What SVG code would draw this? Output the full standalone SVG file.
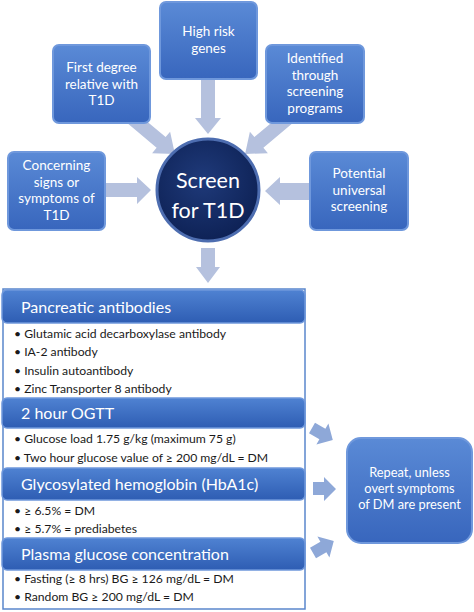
<svg xmlns="http://www.w3.org/2000/svg" width="474" height="612" viewBox="0 0 474 612">
<defs>
<linearGradient id="boxg" x1="0" y1="0" x2="0" y2="1">
<stop offset="0" stop-color="#5a8ad6"/>
<stop offset="1" stop-color="#3866bd"/>
</linearGradient>
<linearGradient id="hdrg" x1="0" y1="0" x2="0" y2="1">
<stop offset="0" stop-color="#4f82d2"/>
<stop offset="1" stop-color="#2e5db3"/>
</linearGradient>
<radialGradient id="circg" cx="0.45" cy="0.4" r="0.6">
<stop offset="0" stop-color="#1f3a7a"/>
<stop offset="1" stop-color="#0e2256"/>
</radialGradient>
<style>
.box{fill:url(#boxg);stroke:#6f98dc;stroke-width:2}
.hdr{fill:url(#hdrg);stroke:#6f98dc;stroke-width:1.5}
.bt{font-family:Lato,"Open Sans","Liberation Sans",sans-serif;font-size:13.5px;fill:#ffffff;text-anchor:middle}
.ht{font-family:Lato,"Open Sans","Liberation Sans",sans-serif;font-size:16px;fill:#ffffff}
.lt{font-family:Lato,"Open Sans","Liberation Sans",sans-serif;font-size:12.2px;fill:#1a1a1a}
.arr{fill:#b5c1de}
.arr2{fill:#8ea8d8}
</style>
</defs>
<rect width="474" height="612" fill="#ffffff"/>

<g id="connectors">
<polygon class="arr" points="201,79 215,79 215,118 221,118 208,134 195,118 201,118"/>
<polygon class="arr" points="105,183 137,183 137,177 151,190 137,204 137,197 105,197"/>
<polygon class="arr" points="310,183 280,183 280,177 265,191 280,205 280,200 310,200"/>
<g transform="translate(132,118) rotate(40)"><polygon class="arr" points="0,-7 38,-7 38,-14 56,0 38,14 38,7 0,7"/></g>
<g transform="translate(288,118) rotate(140)"><polygon class="arr" points="0,-7 38,-7 38,-14 56,0 38,14 38,7 0,7"/></g>
<polygon class="arr" points="201,248 215,248 215,267 220,267 208,283 196,267 201,267"/>
<g transform="translate(312,428) rotate(30)"><polygon class="arr2" points="0,-6 12,-6 12,-12 24,0 12,12 12,6 0,6"/></g>
<polygon class="arr2" points="313,482 324,482 324,477 336,489 324,501 324,495 313,495"/>
<g transform="translate(313,553) rotate(-30)"><polygon class="arr2" points="0,-6 12,-6 12,-12 24,0 12,12 12,6 0,6"/></g>
</g>

<g id="high-risk">
<rect class="box" x="160" y="2" width="97" height="77" rx="6"/>
<text class="bt" x="208.5" y="36">High risk</text>
<text class="bt" x="208.5" y="52.5">genes</text>
</g>
<g id="first-degree">
<rect class="box" x="53" y="45" width="97" height="78" rx="6"/>
<text class="bt" x="101.5" y="72">First degree</text>
<text class="bt" x="101.5" y="88.5">relative with</text>
<text class="bt" x="101.5" y="105">T1D</text>
</g>
<g id="identified">
<rect class="box" x="266" y="45" width="98" height="78" rx="6"/>
<text class="bt" x="315" y="63">Identified</text>
<text class="bt" x="315" y="79.5">through</text>
<text class="bt" x="315" y="96">screening</text>
<text class="bt" x="315" y="112.5">programs</text>
</g>
<g id="concerning">
<rect class="box" x="8" y="152" width="97" height="78" rx="6"/>
<text class="bt" x="56.5" y="170">Concerning</text>
<text class="bt" x="56.5" y="186.5">signs or</text>
<text class="bt" x="56.5" y="203">symptoms of</text>
<text class="bt" x="56.5" y="219.5">T1D</text>
</g>
<g id="potential">
<rect class="box" x="310" y="152" width="98" height="78" rx="6"/>
<text class="bt" x="359" y="178">Potential</text>
<text class="bt" x="359" y="194.5">universal</text>
<text class="bt" x="359" y="211">screening</text>
</g>
<g id="screen">
<circle cx="208" cy="190" r="51" fill="url(#circg)" stroke="#4d6db0" stroke-width="3"/>
<text x="208" y="188" font-family="Lato,'Open Sans','Liberation Sans',sans-serif" font-size="21.5" fill="#ffffff" text-anchor="middle">Screen</text>
<text x="208" y="218" font-family="Lato,'Open Sans','Liberation Sans',sans-serif" font-size="21.5" fill="#ffffff" text-anchor="middle">for T1D</text>
</g>

<g id="tests">
<rect x="3" y="289" width="302" height="320" fill="#ffffff" stroke="#5a86cc" stroke-width="1.5"/>
<rect class="hdr" x="2" y="290" width="303" height="33" rx="5"/>
<text class="ht" x="21" y="313">Pancreatic antibodies</text>
<text class="lt" x="14" y="338">• Glutamic acid decarboxylase antibody</text>
<text class="lt" x="14" y="356">• IA-2 antibody</text>
<text class="lt" x="14" y="375">• Insulin autoantibody</text>
<text class="lt" x="14" y="393">• Zinc Transporter 8 antibody</text>
<rect class="hdr" x="2" y="398" width="303" height="30" rx="5"/>
<text class="ht" x="21" y="419">2 hour OGTT</text>
<text class="lt" x="14" y="443">• Glucose load 1.75 g/kg (maximum 75 g)</text>
<text class="lt" x="14" y="462">• Two hour glucose value of ≥ 200 mg/dL = DM</text>
<rect class="hdr" x="2" y="468" width="303" height="32" rx="5"/>
<text class="ht" x="21" y="490">Glycosylated hemoglobin (HbA1c)</text>
<text class="lt" x="14" y="515">• ≥ 6.5% = DM</text>
<text class="lt" x="14" y="533">• ≥ 5.7% = prediabetes</text>
<rect class="hdr" x="2" y="538" width="303" height="32" rx="5"/>
<text class="ht" x="21" y="560">Plasma glucose concentration</text>
<text class="lt" x="14" y="583">• Fasting (≥ 8 hrs) BG ≥ 126 mg/dL = DM</text>
<text class="lt" x="14" y="601">• Random BG ≥ 200 mg/dL = DM</text>
</g>

<g id="repeat">
<rect class="box" x="347" y="438" width="125" height="105" rx="14"/>
<text class="bt" x="409.5" y="477" style="font-size:12.8px">Repeat, unless</text>
<text class="bt" x="409.5" y="493" style="font-size:12.8px">overt symptoms</text>
<text class="bt" x="409.5" y="509" style="font-size:12.8px">of DM are present</text>
</g>
</svg>
